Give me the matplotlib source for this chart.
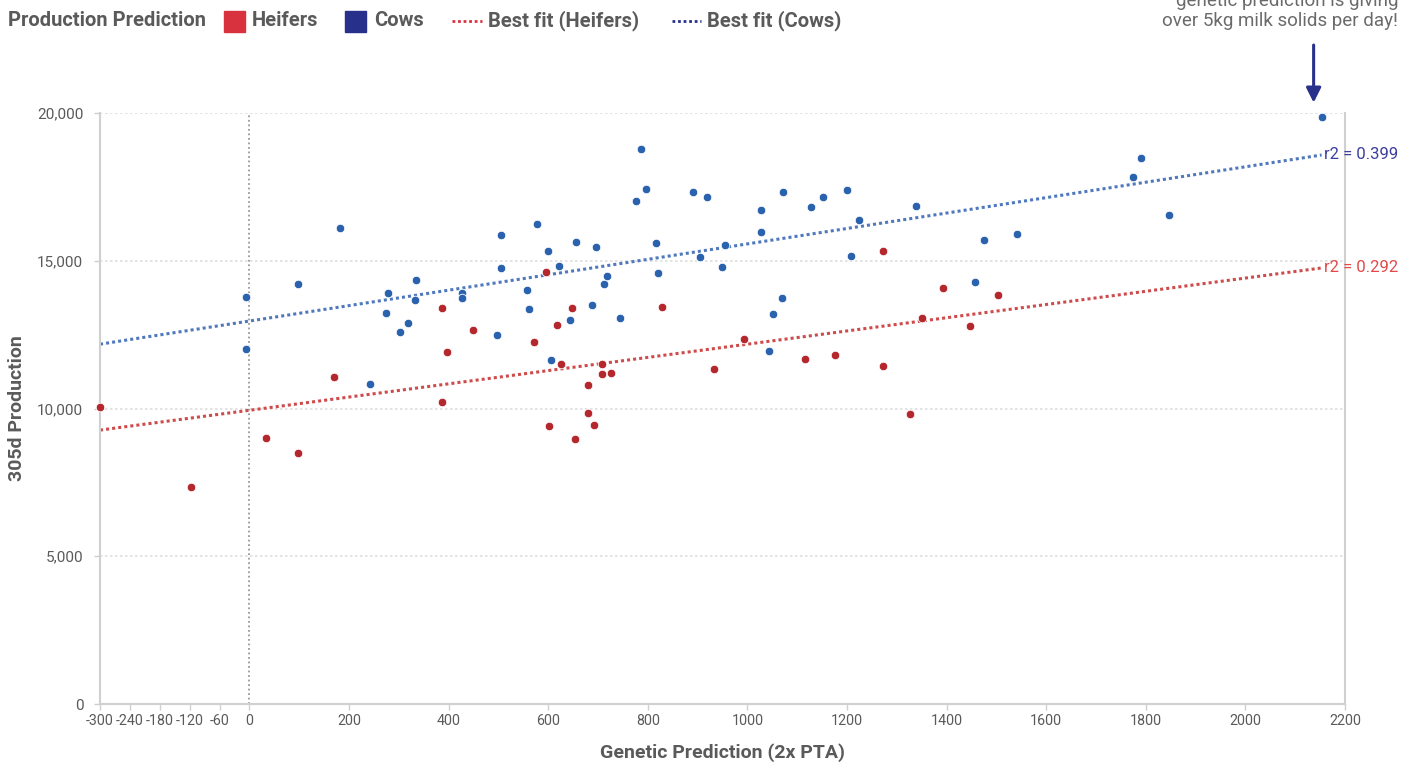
import numpy as np
import matplotlib
matplotlib.use("Agg")
import matplotlib.pyplot as plt
from matplotlib.patches import Rectangle
from matplotlib.lines import Line2D

plt.rcParams['font.family'] = ['Roboto', 'DejaVu Sans']
plt.rcParams['axes.unicode_minus'] = False

################### Datos ###################
cows_x = [-6, -6, 98, 181, 243, 279, 275, 303, 319, 335, 333, 426, 426, 497, 506, 506,
          558, 562, 578, 600, 606, 622, 644, 655, 687, 695, 713, 719, 745, 777, 786, 797,
          817, 821, 891, 904, 919, 948, 956, 1027, 1027, 1043, 1052, 1069, 1072, 1128,
          1151, 1199, 1209, 1225, 1339, 1458, 1476, 1542, 1774, 1790, 1846, 2153]
cows_y = [13790, 12010, 14210, 16110, 10830, 13910, 13230, 12590, 12890, 14350, 13670,
          13910, 13740, 12500, 15870, 14750, 14000, 13370, 16240, 15330, 11650, 14830,
          12980, 15650, 13500, 15470, 14210, 14500, 13060, 17030, 18790, 17430, 15600,
          14600, 17340, 15130, 17170, 14790, 15530, 15960, 16710, 11960, 13190, 13740,
          17340, 16820, 17160, 17390, 15160, 16380, 16840, 14290, 15700, 15890, 17830,
          18470, 16540, 19850]

heifers_x = [-301, -118, 34, 98, 169, 386, 386, 396, 448, 572, 596, 602, 618, 625, 648,
             654, 679, 679, 692, 708, 708, 726, 829, 932, 993, 1116, 1175, 1272, 1272,
             1326, 1350, 1392, 1446, 1503]
heifers_y = [10050, 7340, 9000, 8500, 11080, 13400, 10220, 11920, 12660, 12250, 14610,
             9420, 12810, 11520, 13410, 8980, 10810, 9850, 9440, 11520, 11170, 11210,
             13420, 11350, 12360, 11680, 11800, 15330, 11440, 9800, 13050, 14090, 12800,
             13840]

# rectas de ajuste (pendiente, ordenada) y r2
fit_cows = (2.61, 12960)
fit_heifers = (2.237, 9940)
r2_cows = 0.399
r2_heifers = 0.292
fit_range = [-300, 2153]

x_ticks = [-300, -240, -180, -120, -60, 0, 200, 400, 600, 800, 1000, 1200, 1400,
           1600, 1800, 2000, 2200]
y_ticks = [0, 5000, 10000, 15000, 20000]

################### Colores ###################
c_cow_dot = '#2b62ad'
c_heif_dot = '#b3272d'
c_cow_line = '#5079bd'
c_heif_line = '#cf4b4b'
c_navy = '#27318b'
c_red = '#d9323f'
c_text = '#5a5a5a'

################### Figura ###################
W, H = 1416, 763
fig = plt.figure(figsize=(W / 100, H / 100), dpi=100)
ax = fig.add_axes([100 / W, 1 - 704 / H, (1345 - 100) / W, (704 - 113) / H])

ax.set_xlim(-300, 2200)
ax.set_ylim(0, 20000)

# rejilla
for yv in y_ticks[1:]:
    ax.axhline(yv, color='#dedede', lw=1.2, ls=(0, (1.5, 1.5)), zorder=0)
ax.axvline(0, color='#9a9a9a', lw=1.3, ls=(0, (1, 1.5)), zorder=1)

# rectas de ajuste
xs = np.array(fit_range)
ax.plot(xs, fit_cows[0] * xs + fit_cows[1], color=c_cow_line, lw=2.2,
        ls=(0, (1, 1)), zorder=2, clip_on=False)
ax.plot(xs, fit_heifers[0] * xs + fit_heifers[1], color=c_heif_line, lw=2.2,
        ls=(0, (1, 1)), zorder=2, clip_on=False)

# puntos
ax.scatter(cows_x, cows_y, s=38, color=c_cow_dot, edgecolor='white', lw=0.6,
           zorder=3, clip_on=False)
ax.scatter(heifers_x, heifers_y, s=38, color=c_heif_dot, edgecolor='white', lw=0.6,
           zorder=3, clip_on=False)

# etiquetas r2
ax.text(fit_range[1] + 4, fit_cows[0] * fit_range[1] + fit_cows[1], f"r2 = {r2_cows}",
        color='#3d3f9c', fontsize=12, va='center', ha='left', clip_on=False)
ax.text(fit_range[1] + 4, fit_heifers[0] * fit_range[1] + fit_heifers[1],
        f"r2 = {r2_heifers}", color='#e04a4a', fontsize=12, va='center', ha='left',
        clip_on=False)

# ejes
ax.set_xticks(x_ticks)
ax.set_xticklabels([str(t) for t in x_ticks])
ax.set_yticks(y_ticks)
ax.set_yticklabels([f"{t:,}" for t in y_ticks])
ax.tick_params(axis='both', colors='#cfcfcf', labelcolor=c_text, length=4, width=1)
ax.tick_params(axis='x', pad=3, labelsize=10.3)
ax.tick_params(axis='y', pad=8, labelsize=11)
for side in ['left', 'bottom', 'right']:
    ax.spines[side].set_color('#d0d0d0')
    ax.spines[side].set_linewidth(1.5)
ax.spines['top'].set_visible(False)

ax.set_xlabel("Genetic Prediction (2x PTA)", fontsize=14, fontweight='bold',
              color=c_text, labelpad=11)
ax.set_ylabel("305d Production", fontsize=14, fontweight='bold', color=c_text,
              labelpad=8)

################### Leyenda ###################
ly = 1 - 21 / H
fs_leg = 14.5
fig.text(8 / W, ly, "Production Prediction", fontsize=fs_leg, fontweight='bold',
         color=c_text, va='center', ha='left')
sq = 21
fig.add_artist(Rectangle((224 / W, ly - sq / 2 / H), sq / W, sq / H, color=c_red,
                         transform=fig.transFigure))
fig.text(252 / W, ly, "Heifers", fontsize=fs_leg, fontweight='bold', color=c_text,
         va='center')
fig.add_artist(Rectangle((345 / W, ly - sq / 2 / H), sq / W, sq / H, color=c_navy,
                         transform=fig.transFigure))
fig.text(374 / W, ly, "Cows", fontsize=fs_leg, fontweight='bold', color=c_text,
         va='center')
fig.add_artist(Line2D([452 / W, 482 / W], [ly, ly], color=c_red, lw=2,
                      ls=(0, (1, 1)), transform=fig.transFigure))
fig.text(488 / W, ly, "Best fit (Heifers)", fontsize=fs_leg, fontweight='bold',
         color=c_text, va='center')
fig.add_artist(Line2D([672 / W, 701 / W], [ly, ly], color=c_navy, lw=2,
                      ls=(0, (1, 1)), transform=fig.transFigure))
fig.text(707 / W, ly, "Best fit (Cows)", fontsize=fs_leg, fontweight='bold',
         color=c_text, va='center')

################### Anotación ###################
# la primera línea queda cortada por el borde superior, como en el original
fig.text(1398 / W, 1 - 30 / H, "genetic prediction is giving\nover 5kg milk solids per day!",
         fontsize=13.5, color='#6a6a6a', ha='right', va='bottom', linespacing=1.15)
ax.annotate("", xy=(2137, 20350), xycoords='data',
            xytext=(2137, 22300), textcoords='data',
            arrowprops=dict(arrowstyle='-|>', color=c_navy, lw=2.2,
                            mutation_scale=22, shrinkA=0, shrinkB=0),
            annotation_clip=False)

fig.savefig("out.png", dpi=100)
